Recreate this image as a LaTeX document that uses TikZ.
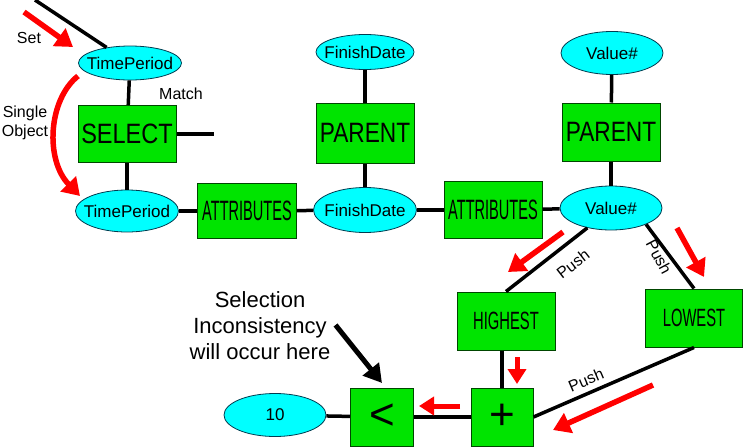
\documentclass[tikz,border=0pt]{standalone}
\usepackage{fontspec}
\setmainfont{Liberation Sans}
\usepackage{graphicx}
\usetikzlibrary{arrows.meta,shapes.geometric}
\definecolor{greenf}{RGB}{0,228,0}
\definecolor{boxborder}{RGB}{0,70,0}
\definecolor{cyanf}{RGB}{0,255,255}
\definecolor{ellborder}{RGB}{0,60,80}
\definecolor{redar}{RGB}{255,0,0}
\newcommand{\boxtxt}[3]{\scalebox{#1}[1]{\fontsize{#2}{#2}\selectfont #3}}
\tikzset{
  ell/.style={ellipse, draw=ellborder, fill=cyanf, line width=0.8pt, inner sep=0pt, font=\fontsize{17}{20}\selectfont},
  gbox/.style={rectangle, draw=boxborder, fill=greenf, line width=1pt, inner sep=0pt},
  conn/.style={line width=3.5pt, black},
  redarrow/.style={redar, line width=5.5pt, -{Triangle[length=17pt,width=21pt]}},
  smallred/.style={redar, line width=5pt, -{Triangle[length=15pt,width=18pt]}},
  lbl/.style={font=\fontsize{16}{18}\selectfont, inner sep=0pt},
}
\begin{document}
\begin{tikzpicture}[x=1pt,y=-1pt]
\useasboundingbox (0,0) rectangle (744,447);
% nodes
\node[ell, minimum width=103pt, minimum height=34pt] (tp1) at (130,63) {\makebox[0pt]{TimePeriod}};
\node[gbox, minimum width=98pt, minimum height=57pt] (sel) at (127,134) {\boxtxt{0.84}{28}{SELECT}};
\node[ell, minimum width=103pt, minimum height=42pt] (tp2) at (127,211) {\makebox[0pt]{TimePeriod}};
\node[gbox, minimum width=99pt, minimum height=55pt] (att1) at (247,211) {\boxtxt{0.52}{28}{ATTRIBUTES}};
\node[ell, minimum width=103pt, minimum height=45pt] (fd2) at (365,210) {\makebox[0pt]{FinishDate}};
\node[gbox, minimum width=98pt, minimum height=57pt] (att2) at (493,210) {\boxtxt{0.52}{28}{ATTRIBUTES}};
\node[ell, minimum width=98pt, minimum height=35pt] (fd1) at (365,52) {\makebox[0pt]{FinishDate}};
\node[gbox, minimum width=98pt, minimum height=60pt] (par1) at (365,133) {\boxtxt{0.81}{28}{PARENT}};
\node[ell, minimum width=102pt, minimum height=43pt] (v1) at (612,53) {\makebox[0pt]{Value\#}};
\node[gbox, minimum width=98pt, minimum height=58pt] (par2) at (611,132) {\boxtxt{0.81}{28}{PARENT}};
\node[ell, minimum width=102pt, minimum height=44pt] (v2) at (611,208) {\makebox[0pt]{Value\#}};
\node[gbox, minimum width=98pt, minimum height=58pt] (high) at (506,321) {\boxtxt{0.59}{25}{HIGHEST}};
\node[gbox, minimum width=97pt, minimum height=58pt] (low) at (694,318) {\boxtxt{0.59}{25}{LOWEST}};
\node[gbox, minimum width=62pt, minimum height=58pt] (plus) at (502,417) {\fontsize{44}{44}\selectfont +};
\node[gbox, minimum width=63pt, minimum height=58pt] (lt) at (382,417) {\fontsize{44}{44}\selectfont <};
\node[ell, minimum width=102pt, minimum height=43pt] (ten) at (275,415) {\makebox[0pt]{10}};
% free ends
\coordinate (c0) at (35,0);
\coordinate (cs) at (214,134);
% connectors
\draw[conn] (c0) -- (tp1);
\draw[conn] (tp1) -- (sel);
\draw[conn] (sel.east) -- (cs);
\draw[conn] (sel) -- (tp2);
\draw[conn] (tp2) -- (att1);
\draw[conn] (att1) -- (fd2);
\draw[conn] (fd2) -- (att2);
\draw[conn] (att2) -- (v2);
\draw[conn] (fd1) -- (par1);
\draw[conn] (par1) -- (fd2);
\draw[conn] (v1) -- (par2);
\draw[conn] (par2) -- (v2);
\draw[conn] (v2.-140) -- (high.north);
\draw[conn] (v2.-25) -- (low.north);
\draw[conn] (high.south -| plus.north) -- (plus.north);
\draw[conn] (ten) -- (lt);
\draw[conn] (lt) -- (plus);
\draw[conn] (low.south) -- (plus.east);
% labels
\node[lbl] (lmatch) at (181,94) {Match};
\node[lbl] (lset) at (29,38) {Set};
\node[lbl, align=center, font=\fontsize{16}{19}\selectfont] (lsingle) at (25,123) {Single\\Object};
\node[lbl, rotate=38] (lpush1) at (573,264) {Push};
\node[lbl, rotate=-62] (lpush2) at (659,257) {Push};
\node[lbl, rotate=23] (lpush3) at (586,380) {Push};
\node[align=center, font=\fontsize{22}{26}\selectfont, inner sep=0pt] (lsel) at (260,326) {Selection\\Inconsistency\\will occur here};
% red arrows
\draw[redarrow] (24,12) -- (73,47);
\draw[redarrow] (78,76) .. controls (48,100) and (45,160) .. (80,196);
\draw[redarrow] (563,232) -- (508,272);
\draw[redarrow] (677,228) -- (704,277);
\draw[redarrow] (653,385) -- (553,430);
\draw[smallred] (517,357) -- (517,384);
\draw[smallred] (460,406) -- (419,406);
% black arrow
\draw[black, line width=5pt, -{Triangle[length=18pt,width=20pt]}] (lsel.east |- 0,325) ++(5,0) -- (382,383);
\end{tikzpicture}
\end{document}
